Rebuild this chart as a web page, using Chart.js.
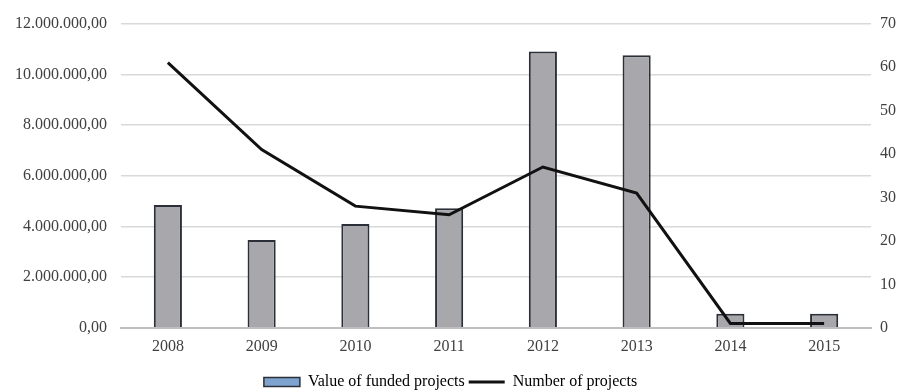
<!DOCTYPE html>
<html>
<head>
<meta charset="utf-8">
<script src="https://cdn.jsdelivr.net/npm/chart.js@4/dist/chart.umd.min.js"></script>
<style>
  html, body { margin: 0; padding: 0; background: #fff; }
  #wrap { width: 907px; height: 392px; }
</style>
</head>
<body>
<div id="wrap"><canvas id="chart"></canvas></div>
<script>
const years = ['2008', '2009', '2010', '2011', '2012', '2013', '2014', '2015'];
const fundedValue = [4840000, 3460000, 4090000, 4720000, 10900000, 10750000, 550000, 550000];
const projectCount = [61, 41, 28, 26, 37, 31, 1, 1];

const serif = 'Liberation Serif';
const fmt = new Intl.NumberFormat('de-DE', { minimumFractionDigits: 2, maximumFractionDigits: 2 });

const ctx = document.getElementById('chart').getContext('2d');

// eslint-disable-next-line no-new
new Chart(ctx, {
  type: 'bar',
  data: {
    labels: years,
    datasets: [
      {
        type: 'line',
        label: 'Number of projects',
        data: projectCount,
        yAxisID: 'y1',
        borderColor: '#111',
        borderWidth: 3,
        pointRadius: 0,
        tension: 0,
        order: 0
      },
      {
        type: 'bar',
        label: 'Value of funded projects',
        data: fundedValue,
        yAxisID: 'y',
        backgroundColor: '#a8a8ac',
        borderColor: '#2b2f38',
        borderWidth: 2,
        borderSkipped: 'bottom',
        barPercentage: 0.6,
        categoryPercentage: 0.5,
        order: 1
      }
    ]
  },
  options: {
    responsive: true,
    maintainAspectRatio: false,
    animation: false,
    layout: { padding: { top: 10, right: 6, left: 0, bottom: -8 } },
    scales: {
      x: {
        afterFit: scale => { scale.height += 5; },
        grid: { display: false, drawTicks: false },
        border: { display: true, color: '#bfbfbf', width: 2 },
        ticks: { color: '#404040', font: { family: serif, size: 16 }, padding: 9 }
      },
      y: {
        position: 'left',
        min: 0,
        max: 12000000,
        afterFit: scale => { scale.width = 121; },
        grid: { color: '#d9d9d9', lineWidth: 1.5, drawTicks: false },
        border: { display: false },
        ticks: {
          stepSize: 2000000,
          color: '#404040',
          font: { family: serif, size: 16 },
          padding: 14,
          callback: v => fmt.format(v)
        }
      },
      y1: {
        position: 'right',
        min: 0,
        max: 70,
        afterFit: scale => { scale.width = 30; },
        grid: { display: false, drawTicks: false },
        border: { display: false },
        ticks: { stepSize: 10, color: '#404040', font: { family: serif, size: 16 }, padding: 9 }
      }
    },
    plugins: {
      legend: {
        position: 'bottom',
        reverse: true,
        labels: {
          color: '#222',
          font: { family: serif, size: 16 },
          usePointStyle: true,
          pointStyleWidth: 36,
          boxHeight: 9,
          padding: 4,
          generateLabels: chart => chart.data.datasets.map((ds, i) => ({
            text: ds.label,
            datasetIndex: i,
            fillStyle: ds.type === 'bar' ? '#7fa3cf' : '#111',
            strokeStyle: ds.type === 'bar' ? '#2b2f38' : '#111',
            lineWidth: ds.type === 'bar' ? 1.5 : 3,
            pointStyle: ds.type === 'bar' ? 'rect' : 'line',
            hidden: false
          }))
        }
      },
      tooltip: { enabled: false }
    }
  }
});
</script>
</body>
</html>
